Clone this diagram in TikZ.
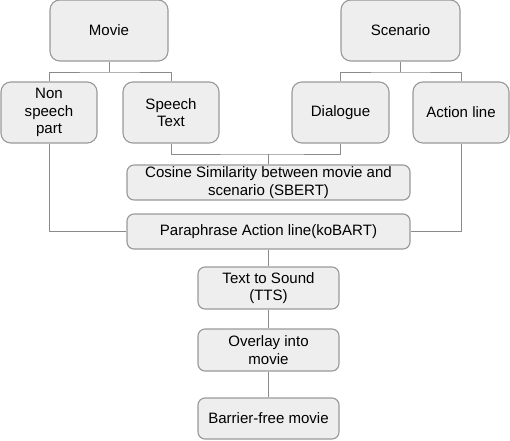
\documentclass[tikz,border=0pt]{standalone}
\usepackage{fontspec}
\setmainfont{Liberation Sans}
\usetikzlibrary{positioning,calc}
\definecolor{BoxFill}{HTML}{EEEEEE}
\definecolor{BoxLine}{HTML}{999999}
\definecolor{LinkGray}{HTML}{8A8A8A}
\tikzset{
  stage/.style={draw=BoxLine,fill=BoxFill,line width=0.8pt,rounded corners=5pt,align=center,
    inner sep=0pt,font=\fontsize{10.7}{12.6}\selectfont},
  bigstage/.style={stage,rounded corners=7pt},
  link/.style={draw=LinkGray,line width=0.7pt}
}
\begin{document}
\begin{tikzpicture}[x=0.025cm,y=-0.025cm,line join=round]
  \useasboundingbox (0,0) rectangle (510,440);
  \node[bigstage,minimum width=118*0.025cm,minimum height=61*0.025cm] (movie) at (109,30.5) {Movie};
  \node[bigstage,minimum width=119*0.025cm,minimum height=61*0.025cm] (scenario) at (400.5,30.5) {Scenario};
  \node[bigstage,minimum width=96*0.025cm,minimum height=61*0.025cm] (nonspeech) at (49,112.5) {Non\\speech\\part};
  \node[bigstage,minimum width=96*0.025cm,minimum height=61*0.025cm] (speech) at (171,112.5) {Speech\\Text};
  \node[bigstage,minimum width=97*0.025cm,minimum height=61*0.025cm] (dialogue) at (340.5,112.5) {Dialogue};
  \node[bigstage,minimum width=96*0.025cm,minimum height=61*0.025cm] (action) at (461,112.5) {Action line};
  \node[stage,minimum width=283*0.025cm,minimum height=35*0.025cm] (cosine) at (268.5,182.5) {Cosine Similarity between movie and\\scenario (SBERT)};
  \node[stage,minimum width=283*0.025cm,minimum height=35*0.025cm] (para) at (268.5,231.5) {Paraphrase Action line(koBART)};
  \node[stage,minimum width=141*0.025cm,minimum height=42*0.025cm] (tts) at (268.5,288) {Text to Sound\\(TTS)};
  \node[stage,minimum width=141*0.025cm,minimum height=42*0.025cm] (overlay) at (268.5,350) {Overlay into\\movie};
  \node[stage,minimum width=141*0.025cm,minimum height=41*0.025cm] (barrier) at (268.5,418.5) {Barrier-free movie};
  \coordinate (mj) at (109,72);\coordinate (sj) at (400.5,72);\coordinate (dj) at (268.5,154);
  \draw[link] (movie) -- (mj);\draw[link] (nonspeech.north) |- (mj) -| (speech.north);
  \draw[link] (scenario) -- (sj);\draw[link] (dialogue.north) |- (sj) -| (action.north);
  \draw[link] (speech.south) |- (dj) -| (dialogue.south);\draw[link] (dj) -- (cosine);
  \draw[link] (nonspeech.south) |- (para.west);\draw[link] (action.south) |- (para.east);
  \draw[link] (para) -- (tts);\draw[link] (tts) -- (overlay);\draw[link] (overlay) -- (barrier);
\end{tikzpicture}
\end{document}
